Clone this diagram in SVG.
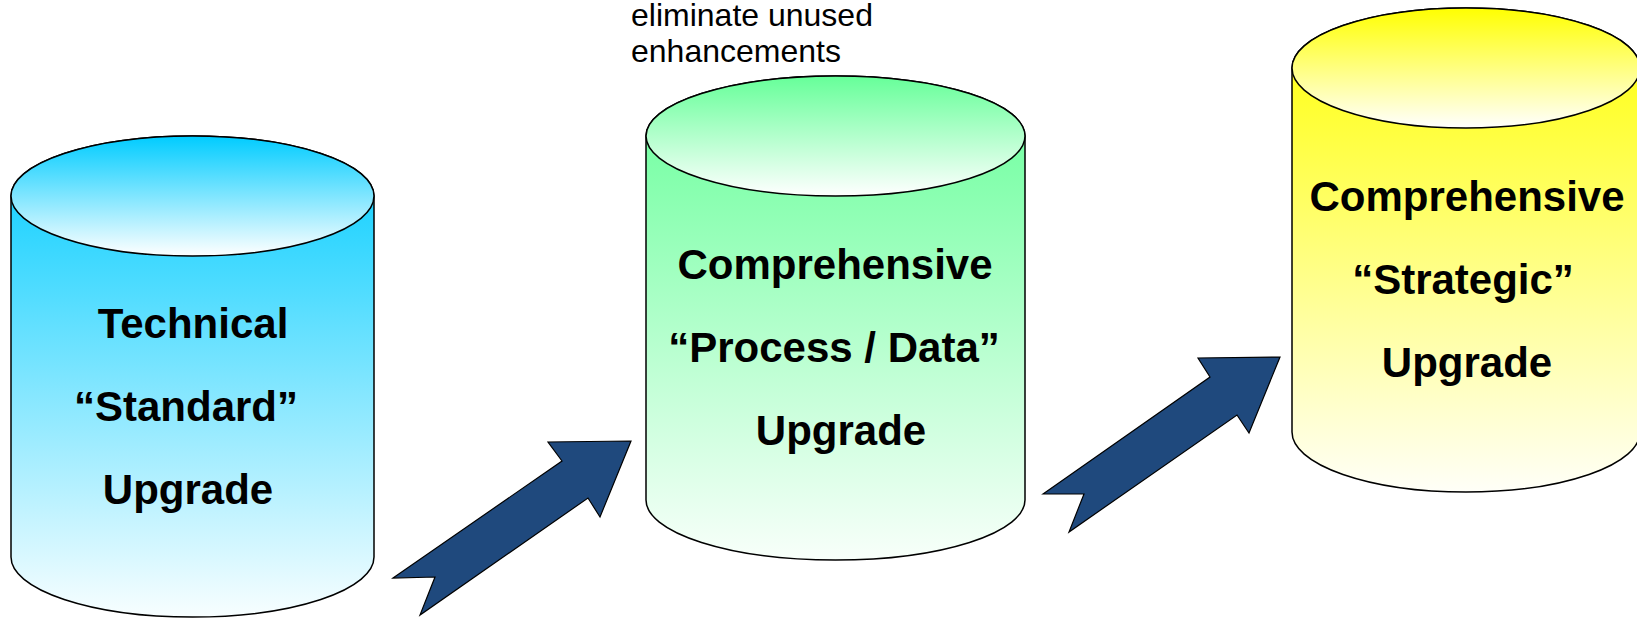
<svg xmlns="http://www.w3.org/2000/svg" width="1637" height="619" viewBox="0 0 1637 619">
  <style>
    .outline { stroke: #000; stroke-width: 1.5; }
    .label { font-family: "Liberation Sans", Arial, sans-serif; font-weight: bold; font-size: 42px; fill: #000; text-anchor: middle; }
    .note { font-family: "Liberation Sans", Arial, sans-serif; font-size: 32px; fill: #000; }
    .arrow { fill: #1F497D; stroke: #000; stroke-width: 1.2; stroke-linejoin: miter; }
  </style>
  <defs>
    <linearGradient id="blueBody" gradientUnits="userSpaceOnUse" x1="0" y1="136" x2="0" y2="617">
      <stop offset="0" stop-color="#00CCFF"/>
      <stop offset="1" stop-color="#F8FEFF"/>
    </linearGradient>
    <linearGradient id="blueTop" x1="0" y1="0" x2="0" y2="1">
      <stop offset="0" stop-color="#00CCFF"/>
      <stop offset="1" stop-color="#FFFFFF"/>
    </linearGradient>
    <linearGradient id="greenBody" gradientUnits="userSpaceOnUse" x1="0" y1="76" x2="0" y2="560">
      <stop offset="0" stop-color="#66FF99"/>
      <stop offset="1" stop-color="#F8FFFA"/>
    </linearGradient>
    <linearGradient id="greenTop" x1="0" y1="0" x2="0" y2="1">
      <stop offset="0" stop-color="#66FF99"/>
      <stop offset="1" stop-color="#FFFFFF"/>
    </linearGradient>
    <linearGradient id="yellowBody" gradientUnits="userSpaceOnUse" x1="0" y1="8" x2="0" y2="492">
      <stop offset="0" stop-color="#FFFF00"/>
      <stop offset="1" stop-color="#FFFFF8"/>
    </linearGradient>
    <linearGradient id="yellowTop" x1="0" y1="0" x2="0" y2="1">
      <stop offset="0" stop-color="#FFFF00"/>
      <stop offset="1" stop-color="#FFFFFF"/>
    </linearGradient>
  </defs>

  <g id="note">
    <text class="note" x="631" y="26">eliminate unused</text>
    <text class="note" x="631" y="62">enhancements</text>
  </g>

  <g id="node-technical">
    <path class="outline" fill="url(#blueBody)" d="M11 196 L11 557 A181.5 60 0 0 0 374 557 L374 196 A181.5 60 0 0 0 11 196 Z"/>
    <ellipse class="outline" fill="url(#blueTop)" cx="192.5" cy="196" rx="181.5" ry="60"/>
    <text class="label" x="193" y="338">Technical</text>
    <text class="label" x="186" y="421">“Standard”</text>
    <text class="label" x="188" y="504">Upgrade</text>
  </g>

  <g id="node-process">
    <path class="outline" fill="url(#greenBody)" d="M646 136 L646 500 A189.5 60 0 0 0 1025 500 L1025 136 A189.5 60 0 0 0 646 136 Z"/>
    <ellipse class="outline" fill="url(#greenTop)" cx="835.5" cy="136" rx="189.5" ry="60"/>
    <text class="label" x="835" y="279">Comprehensive</text>
    <text class="label" x="834" y="362">“Process / Data”</text>
    <text class="label" x="841" y="445">Upgrade</text>
  </g>

  <g id="node-strategic">
    <path class="outline" fill="url(#yellowBody)" d="M1292 68 L1292 432 A174 60 0 0 0 1640 432 L1640 68 A174 60 0 0 0 1292 68 Z"/>
    <ellipse class="outline" fill="url(#yellowTop)" cx="1466" cy="68" rx="174" ry="60"/>
    <text class="label" x="1467" y="211">Comprehensive</text>
    <text class="label" x="1463" y="294">“Strategic”</text>
    <text class="label" x="1467" y="377">Upgrade</text>
  </g>

  <g id="connectors">
    <polygon class="arrow" points="393,578 562,461 548,442 631,441 600,517 588,498 420,615 435,577"/>
    <polygon class="arrow" points="1043,494 1210,377 1198,358 1280,357 1249,433 1237,415 1069,532 1084,494"/>
  </g>
</svg>
